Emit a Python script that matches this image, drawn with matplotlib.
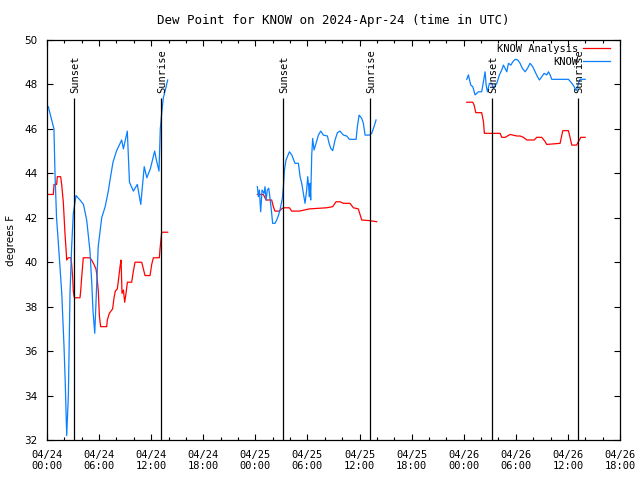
import numpy as np
import matplotlib
matplotlib.use("Agg")
import matplotlib.pyplot as plt

plt.rcParams['font.family'] = ['DejaVu Sans Mono']
plt.rcParams['font.size'] = 7.5

# hours since 04/24 00:00 UTC
obs_hr_1 = [0.15, 0.8, 0.92, 1.1, 1.3, 1.7, 1.96, 2.1, 2.27, 2.46, 2.65, 2.84, 3.03, 3.34, 3.8,
            4.2, 4.57, 4.95, 5.15, 5.3, 5.5, 5.9, 6.3, 6.7, 7.06, 7.26, 7.6, 8.0, 8.6, 8.8,
            9.25, 9.5, 9.95, 10.4, 10.8, 11.2, 11.5, 11.9, 12.4, 12.6, 12.9, 13.05, 13.21,
            13.4, 13.6, 13.9]
obs_f_1 = [47.0, 46.0, 44.0, 42.0, 40.9, 38.6, 36.2, 34.6, 32.2, 34.0, 38.6, 40.7, 42.2, 43.0, 42.8,
           42.6, 41.9, 40.5, 39.1, 37.8, 36.8, 40.7, 42.0, 42.5, 43.2, 43.7, 44.5, 45.0, 45.5, 45.1,
           45.9, 43.6, 43.2, 43.5, 42.6, 44.3, 43.8, 44.2, 45.0, 44.6, 44.1, 46.0, 46.7,
           47.4, 47.7, 48.2]

obs_hr_2 = [24.23, 24.35, 24.46, 24.61, 24.77, 25.0, 25.11, 25.23, 25.38, 25.54, 25.69, 25.84,
            25.99, 26.26, 26.46, 26.65, 26.84, 27.11, 27.23, 27.35, 27.53, 27.92, 28.19, 28.57,
            28.96, 29.15, 29.34, 29.53, 29.72, 29.91, 30.03, 30.14, 30.22, 30.3, 30.37, 30.49,
            30.6, 30.76, 30.99, 31.26, 31.53, 31.83, 32.3, 32.49, 32.68, 32.91, 33.18, 33.45,
            33.75, 34.14, 34.52, 34.83, 35.6, 35.75, 35.95, 36.25, 36.44, 36.64, 37.13, 37.4,
            37.67, 37.9]
obs_f_2 = [43.4, 42.95, 43.25, 42.27, 43.25, 43.1, 43.4, 42.8, 43.25, 43.33, 42.88, 42.35,
           41.75, 41.75, 41.9, 42.1, 42.35, 42.88, 43.4, 44.15, 44.6, 44.97, 44.83, 44.45,
           44.45, 43.85, 43.55, 43.1, 42.65, 43.25, 43.85, 43.4, 42.95, 43.55, 42.8, 44.8,
           45.57, 45.05, 45.35, 45.72, 45.9, 45.72, 45.68, 45.35, 45.13, 45.02, 45.5, 45.83,
           45.9, 45.72, 45.68, 45.53, 45.53, 46.1, 46.62, 46.47, 46.25, 45.72, 45.72, 45.8,
           46.1, 46.4]

obs_hr_3 = [48.35, 48.54, 48.81, 49.04, 49.31, 49.69, 50.07, 50.27, 50.46, 50.58, 50.73, 50.96,
            51.23, 51.42, 51.81, 52.11, 52.38, 52.57, 52.77, 52.96, 53.15, 53.43, 53.65, 53.92,
            54.23, 54.49, 54.76, 55.07, 55.34, 55.64, 55.95, 56.22, 56.49, 56.72, 56.99, 57.26,
            57.56, 57.76, 57.95, 58.14, 60.06, 60.45, 60.72, 60.95, 61.1, 61.21, 61.41, 61.99]
obs_f_3 = [48.23, 48.43, 47.97, 47.9, 47.53, 47.67, 47.67, 48.13, 48.57, 47.97, 47.67, 48.05,
           48.05, 47.83, 48.05, 48.43, 48.65, 48.87, 48.72, 48.57, 48.95, 48.87, 49.02, 49.13,
           49.1, 48.95, 48.72, 48.57, 48.72, 48.95, 48.8, 48.57, 48.35, 48.2, 48.35, 48.5,
           48.43, 48.57, 48.43, 48.23, 48.23, 48.05, 47.9, 47.72, 47.87, 48.05, 48.23, 48.23]

ana_hr_1 = [0.15, 0.73, 0.81, 1.11, 1.19, 1.57, 1.69, 1.88, 2.07, 2.19, 2.27, 2.46, 2.76, 2.84,
            2.96, 3.03, 3.15, 3.8, 3.88, 3.99, 4.18, 4.95, 5.14, 5.41, 5.64, 5.72, 5.91, 6.03,
            6.18, 6.87, 6.95, 7.18, 7.56, 7.72, 7.87, 8.1, 8.26, 8.41, 8.53, 8.64, 8.8, 8.95,
            9.1, 9.26, 9.75, 9.95, 10.14, 10.91, 11.1, 11.29, 11.87, 12.06, 12.25, 12.94,
            13.02, 13.21, 13.9]
ana_f_1 = [43.05, 43.05, 43.5, 43.5, 43.85, 43.85, 43.5, 42.7, 41.3, 40.6, 40.1, 40.2, 40.2, 39.9,
           39.3, 38.7, 38.4, 38.4, 38.7, 39.3, 40.2, 40.2, 40.1, 39.9, 39.7, 39.5, 38.7, 37.6,
           37.1, 37.1, 37.4, 37.7, 37.9, 38.4, 38.7, 38.8, 39.3, 39.8, 40.1, 38.6, 38.75, 38.2,
           38.6, 39.1, 39.1, 39.6, 40.0, 40.0, 39.7, 39.4, 39.4, 39.9, 40.2, 40.2,
           40.6, 41.35, 41.35]

ana_hr_2 = [24.23, 24.92, 25.23, 25.88, 26.07, 26.26, 26.76, 27.03, 27.23, 27.92, 28.19, 29.07,
            30.22, 32.21, 32.91, 33.29, 33.75, 34.14, 34.9, 35.29, 35.86, 36.25, 37.21, 37.98]
ana_f_2 = [43.05, 43.05, 42.8, 42.8, 42.5, 42.3, 42.3, 42.4, 42.45, 42.45, 42.3, 42.3,
           42.4, 42.45, 42.5, 42.72, 42.72, 42.65, 42.65, 42.45, 42.4, 41.9, 41.87, 41.82]

ana_hr_3 = [48.35, 49.04, 49.2, 49.39, 50.07, 50.27, 50.38, 52.19, 52.38, 52.77, 53.04, 53.35,
            54.11, 54.49, 54.88, 55.26, 56.11, 56.41, 56.99, 57.37, 57.56, 59.1, 59.41, 60.06,
            60.45, 61.02, 61.21, 61.48, 61.99]
ana_f_3 = [47.2, 47.2, 47.07, 46.73, 46.73, 46.33, 45.8, 45.8, 45.62, 45.62, 45.68, 45.75,
           45.68, 45.68, 45.62, 45.5, 45.5, 45.62, 45.62, 45.43, 45.3, 45.35, 45.92, 45.92,
           45.27, 45.27, 45.43, 45.62, 45.62]

sun_hr = [3.1, 13.1, 27.2, 37.25, 51.3, 61.2]
sun_lbl = ['Sunset', 'Sunrise', 'Sunset', 'Sunrise', 'Sunset', 'Sunrise']

tick_hr = list(range(0, 67, 6))
tick_lbl = ['04/24\n00:00', '04/24\n06:00', '04/24\n12:00', '04/24\n18:00',
            '04/25\n00:00', '04/25\n06:00', '04/25\n12:00', '04/25\n18:00',
            '04/26\n00:00', '04/26\n06:00', '04/26\n12:00', '04/26\n18:00']

red = '#ff0000'
blue = '#0a80ff'

fig = plt.figure(figsize=(6.4, 4.8), dpi=100)
ax = fig.add_axes([47 / 640, 40 / 480, 573 / 640, 400 / 480])

# join segments with gaps
def joined(*pairs):
    xs, ys = [], []
    for x, y in pairs:
        xs += list(x) + [np.nan]
        ys += list(y) + [np.nan]
    return xs, ys

ax_x, ax_y = joined((ana_hr_1, ana_f_1), (ana_hr_2, ana_f_2), (ana_hr_3, ana_f_3))
ob_x, ob_y = joined((obs_hr_1, obs_f_1), (obs_hr_2, obs_f_2), (obs_hr_3, obs_f_3))
ax.plot(ax_x, ax_y, color=red, lw=0.9, label='KNOW Analysis')
ax.plot(ob_x, ob_y, color=blue, lw=0.9, label='KNOW')

for h, s in zip(sun_hr, sun_lbl):
    ax.vlines(h, 32, 47.4, color='black', lw=0.9)
    ax.text(h + 0.15, 47.62, s, rotation=90, ha='center', va='bottom')

ax.set_xlim(0, 66)
ax.set_ylim(32, 50)
ax.set_xticks(tick_hr)
ax.set_xticklabels(tick_lbl)
ax.set_xticks(range(0, 67, 2), minor=True)
ax.set_yticks(range(32, 51, 2))
ax.tick_params(which='both', direction='in', top=True, right=True, width=0.8)
ax.tick_params(which='major', length=4.5, pad=7)
ax.tick_params(which='minor', length=2.5)
for t in ax.get_yticklabels():
    t.set_family('DejaVu Sans')
for sp in ax.spines.values():
    sp.set_linewidth(0.9)

ax.set_ylabel('degrees F', family='DejaVu Sans', labelpad=6)
ax.set_title('Dew Point for KNOW on 2024-Apr-24 (time in UTC)', pad=11.5)

ax.legend(loc='upper right', bbox_to_anchor=(0.993, 1.006), frameon=False, markerfirst=False,
          handlelength=2.6, handletextpad=0.4, labelspacing=0.3, borderaxespad=0.2)

fig.savefig('out.png', dpi=100)
